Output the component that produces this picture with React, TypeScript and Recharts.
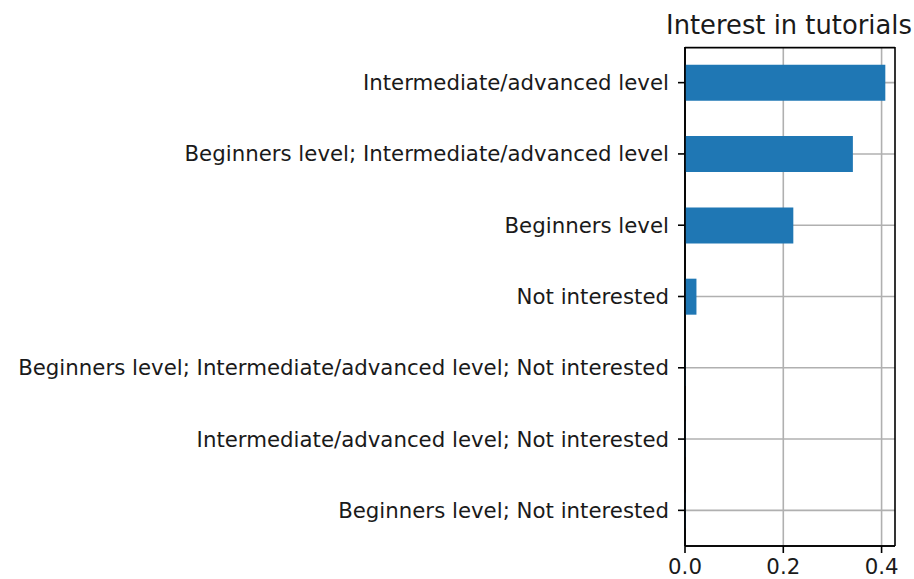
import React from "react";
import {
  BarChart,
  Bar,
  XAxis,
  YAxis,
  CartesianGrid,
  Customized,
} from "recharts";

const categories = [
  "Intermediate/advanced level",
  "Beginners level; Intermediate/advanced level",
  "Beginners level",
  "Not interested",
  "Beginners level; Intermediate/advanced level; Not interested",
  "Intermediate/advanced level; Not interested",
  "Beginners level; Not interested",
];
const shares = [0.4076, 0.3416, 0.2204, 0.0233, 0.0015, 0.0012, 0.0012];
const xTicks = [0, 0.2, 0.4];
const X_MAX = 0.4273;

const FONT = "'DejaVu Sans', sans-serif";
const SPINE = { stroke: "#000", strokeWidth: 1.6 };
const TICK_FONT = { fontFamily: FONT, fontSize: 21.3, fill: "#1a1a1a" };

const data = categories.map((name, i) => ({ name, value: shares[i] }));

// frame edges taken from the plot area the chart computed
// (a line exactly on the top edge gets dropped, hence the small nudge)
const frameRows = ({ offset }: any) => [offset.top + 0.8, offset.top + offset.height];
const frameCols = ({ offset }: any) => [offset.left, offset.left + offset.width];

const Title = () => (
  <text
    x={789}
    y={34}
    textAnchor="middle"
    fontFamily={FONT}
    fontSize={25.8}
    fill="#1a1a1a"
  >
    Interest in tutorials
  </text>
);

export default function App() {
  return (
    <div style={{ position: "absolute", left: 0, top: 0, background: "#fff" }}>
      <BarChart
        width={914}
        height={579}
        data={data}
        layout="vertical"
        margin={{ top: 47, right: 19, bottom: 0, left: 0 }}
        barCategoryGap="25%"
      >
        <Bar dataKey="value" fill="#1f77b4" isAnimationActive={false} />
        <CartesianGrid
          stroke="#b0b0b0"
          strokeWidth={1.6}
          verticalValues={xTicks}
        />
        <CartesianGrid
          stroke="#000"
          strokeWidth={1.6}
          horizontalCoordinatesGenerator={frameRows}
          verticalCoordinatesGenerator={frameCols}
        />
        <XAxis
          type="number"
          domain={[0, X_MAX]}
          ticks={xTicks}
          tickFormatter={(v: number) => v.toFixed(1)}
          height={33}
          tickSize={7}
          tickMargin={6}
          axisLine={SPINE}
          tickLine={SPINE}
          tick={TICK_FONT}
          allowDataOverflow
        />
        <YAxis
          type="category"
          dataKey="name"
          width={685}
          tickSize={7}
          tickMargin={9}
          axisLine={SPINE}
          tickLine={SPINE}
          tick={TICK_FONT}
          interval={0}
        />
        <Customized component={Title} />
      </BarChart>
    </div>
  );
}
